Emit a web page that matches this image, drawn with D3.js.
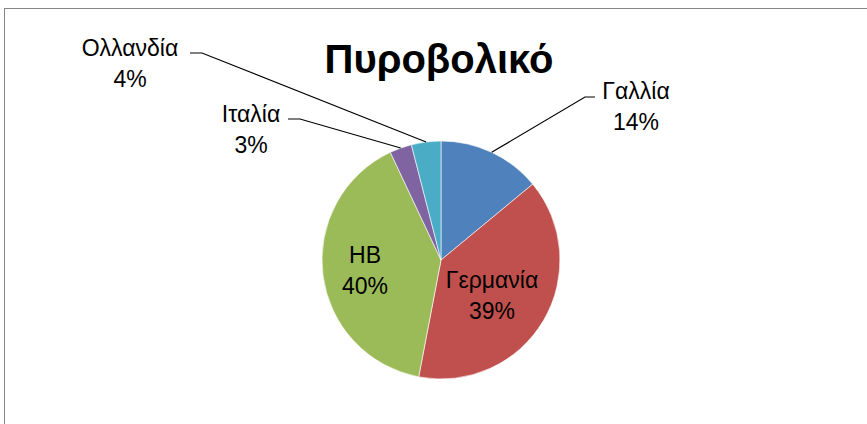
<!DOCTYPE html>
<html><head><meta charset="utf-8">
<script src="https://cdn.jsdelivr.net/npm/d3@7"></script>
<style>body{margin:0;background:#fff}svg{display:block}</style>
</head><body>
<svg id="c" width="867" height="424"></svg>
<script>
const categories = ["Γαλλία", "Γερμανία", "ΗΒ", "Ιταλία", "Ολλανδία"];
const values = [14, 39, 40, 3, 4];
const colors = ["#4F81BD", "#C0504D", "#9BBB59", "#8064A2", "#4BACC6"];
const title = "Πυροβολικό";

// label layout (pixel offsets relative to pie centre), not data
const labelLayout = {
  "Γαλλία":   {type:"out", elbow:[144,-163], side:"right", tx:195, ty:-161},
  "Γερμανία": {type:"in", tx:51, ty:28},
  "ΗΒ":       {type:"in", tx:-76, ty:3},
  "Ιταλία":   {type:"out", elbow:[-141,-141], side:"left", tx:-190, ty:-138},
  "Ολλανδία": {type:"out", elbow:[-239,-207], side:"left", tx:-311, ty:-204}
};

const svg = d3.select("#c");
const cx = 441, cy = 260, R = 119;
const font = "'Liberation Sans', Arial, sans-serif";

svg.append("rect").attr("x",4.5).attr("y",8.5).attr("width",900).attr("height",440)
  .attr("fill","#fff").attr("stroke","#868686").attr("stroke-width",1);

svg.append("text").attr("x",439).attr("y",73).attr("text-anchor","middle")
  .attr("font-family",font).attr("font-weight","bold").attr("font-size",40)
  .attr("fill","#000").text(title);

const data = categories.map((c,i)=>({cat:c, value:values[i], color:colors[i]}));
const pie = d3.pie().value(d=>d.value).sort(null);
const arcs = pie(data);
const arc = d3.arc().innerRadius(0).outerRadius(R);
const total = d3.sum(values);

const g = svg.append("g").attr("transform",`translate(${cx},${cy})`);
g.selectAll("path").data(arcs).join("path")
  .attr("d",arc).attr("fill",d=>d.data.color)
  .attr("stroke","#fff").attr("stroke-width",0.6);

arcs.forEach(a=>{
  const L = labelLayout[a.data.cat];
  const pct = Math.round(a.data.value/total*100)+"%";
  if(L.type==="out"){
    const mid = (a.startAngle+a.endAngle)/2;
    const p0 = [Math.sin(mid)*R, -Math.cos(mid)*R];
    const e = L.elbow;
    const e2 = [e[0] + (L.side==="right"?10:-12), e[1]];
    g.append("polyline").attr("points",[p0,e,e2].map(p=>p.join(",")).join(" "))
      .attr("fill","none").attr("stroke","#000").attr("stroke-width",1.2);
  }
  const t = g.append("text").attr("text-anchor","middle")
    .attr("font-family",font).attr("font-size",23).attr("fill","#000");
  t.append("tspan").attr("x",L.tx).attr("y",L.ty).text(a.data.cat);
  t.append("tspan").attr("x",L.tx).attr("y",L.ty+31).text(pct);
});
</script>
</body></html>
